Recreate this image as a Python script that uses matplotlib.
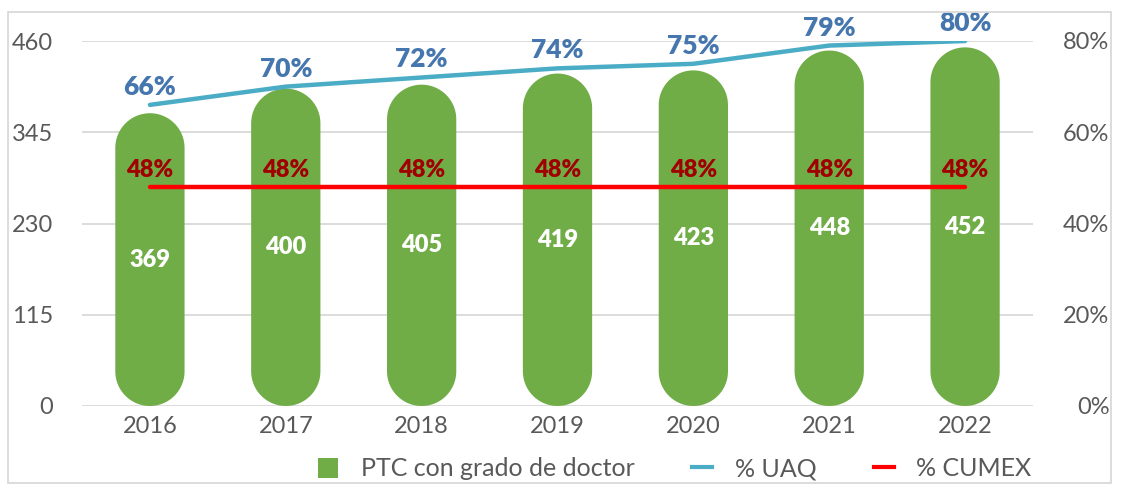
import matplotlib
matplotlib.use("Agg")
import numpy as np
import matplotlib.pyplot as plt
from matplotlib.patches import PathPatch, Rectangle, Patch
from matplotlib.path import Path
from matplotlib.lines import Line2D

years = ["2016", "2017", "2018", "2019", "2020", "2021", "2022"]
ptc_doctor = [369, 400, 405, 419, 423, 448, 452]
pct_uaq = [0.66, 0.70, 0.72, 0.74, 0.75, 0.79, 0.80]
pct_cumex = [0.48, 0.48, 0.48, 0.48, 0.48, 0.48, 0.48]
left_ticks = [0, 115, 230, 345, 460]
right_ticks = [0, 0.2, 0.4, 0.6, 0.8]

GREEN = "#70AD47"
TEAL = "#4BACC6"
RED = "#FF0000"
BLUE_TXT = "#4676AE"
DRED_TXT = "#A00000"
GRID = "#D9D9D9"
TICK = "#595959"
FONT = "Lato"

plt.rcParams["font.family"] = [FONT, "DejaVu Sans"]

W, H = 1121, 484
fig = plt.figure(figsize=(W / 100, H / 100), dpi=100)
ax_l, ax_r, ax_b, ax_t = 82, 1033, 406, 41
ax = fig.add_axes([ax_l / W, 1 - ax_b / H, (ax_r - ax_l) / W, (ax_b - ax_t) / H])
ax2 = ax.twinx()

n = len(years)
xs = list(range(n))
ax.set_xlim(-0.5, n - 0.5)
ax.set_ylim(0, 460)
ax2.set_ylim(0, 0.8)

# pill-shaped bars (semicircular ends)
bw = 0.51
px_per_x = (ax_r - ax_l) / n
px_per_y = (ax_b - ax_t) / 460
r = bw / 2
ry = r * px_per_x / px_per_y
theta_top = np.linspace(0, np.pi, 40)
theta_bot = np.linspace(np.pi, 2 * np.pi, 40)
for x, v in zip(xs, ptc_doctor):
    top = np.column_stack([x + r * np.cos(theta_top), v - ry + ry * np.sin(theta_top)])
    bot = np.column_stack([x + r * np.cos(theta_bot), ry + ry * np.sin(theta_bot)])
    verts = np.vstack([top, bot, top[:1]])
    codes = [Path.MOVETO] + [Path.LINETO] * (len(verts) - 2) + [Path.CLOSEPOLY]
    ax.add_patch(PathPatch(Path(verts, codes), facecolor=GREEN,
                           edgecolor="none", zorder=2))
    ax.text(x, v / 2, f"{v}", ha="center", va="center", color="white",
            fontsize=17, fontweight="heavy", zorder=5)

# gridlines
for t in left_ticks:
    ax.axhline(t, color=GRID, lw=1.3, zorder=0)

ax.set_yticks(left_ticks)
ax.set_yticklabels([str(t) for t in left_ticks])
ax.set_xticks(xs)
ax.set_xticklabels(years)
ax.tick_params(axis="both", length=0, labelsize=17, labelcolor=TICK)
ax.tick_params(axis="y", pad=21)
ax.tick_params(axis="x", pad=7)
for s in ax.spines.values():
    s.set_visible(False)

ax2.set_yticks(right_ticks)
ax2.set_yticklabels([f"{int(round(t*100))}%" for t in right_ticks])
ax2.tick_params(axis="y", length=0, labelsize=17, labelcolor=TICK, pad=55)
for lab in ax2.get_yticklabels():
    lab.set_ha("right")
for s in ax2.spines.values():
    s.set_visible(False)

ax2.plot(xs, pct_uaq, color=TEAL, lw=3.2, solid_capstyle="round", zorder=3)
ax2.plot(xs, pct_cumex, color=RED, lw=3.2, solid_capstyle="round", zorder=3)
for x, v in zip(xs, pct_uaq):
    ax2.annotate(f"{int(round(v*100))}%", (x, v), xytext=(0, 13),
                 textcoords="offset points", ha="center", va="center",
                 color=BLUE_TXT, fontsize=19, fontweight="heavy",
                 annotation_clip=False)
for x, v in zip(xs, pct_cumex):
    ax2.annotate(f"{int(round(v*100))}%", (x, v), xytext=(0, 12),
                 textcoords="offset points", ha="center", va="center",
                 color=DRED_TXT, fontsize=17, fontweight="heavy",
                 annotation_clip=False)

handles = [Patch(facecolor=GREEN, edgecolor="none"),
           Line2D([], [], color=TEAL, lw=3),
           Line2D([], [], color=RED, lw=3)]
labels = ["PTC con grado de doctor", "% UAQ", "% CUMEX"]
leg = fig.legend(handles, labels, loc="center", ncol=3,
                 bbox_to_anchor=(675 / W, 1 - 469 / H), frameon=False,
                 fontsize=18, handlelength=0.8, handleheight=0.9,
                 columnspacing=2.3, handletextpad=0.9)
for t in leg.get_texts():
    t.set_color(TICK)

fig.patches.append(Rectangle((8 / W, 1 / H), 1103 / W, 471 / H,
                             transform=fig.transFigure, fill=False,
                             edgecolor=GRID, lw=1.3))

fig.savefig("out.png", dpi=100)
